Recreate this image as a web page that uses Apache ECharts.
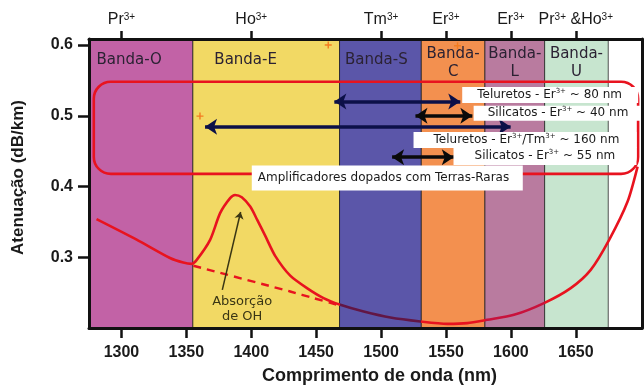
<!DOCTYPE html>
<html><head><meta charset="utf-8">
<script src="https://cdn.jsdelivr.net/npm/echarts@6/dist/echarts.min.js"></script>
<style>html,body{margin:0;padding:0;background:#fff}#c{width:644px;height:386px}</style>
</head><body><div id="c"></div>
<script>
// ---------------- data ----------------
const bandNames = ['Banda-O', 'Banda-E', 'Banda-S', 'Banda-\nC', 'Banda-\nL', 'Banda-\nU'];
const bandStart = [1275, 1355, 1468, 1531, 1580, 1626];
const bandEnd   = [1355, 1468, 1531, 1580, 1626, 1675];
const xTicks = [1300, 1350, 1400, 1450, 1500, 1550, 1600, 1650];
const yTicks = [0.3, 0.4, 0.5, 0.6];
const ionTicks  = [1300, 1400, 1500, 1550, 1600, 1650];
const ionLabels = ['Pr³⁺', 'Ho³⁺', 'Tm³⁺', 'Er³⁺', 'Er³⁺', 'Pr³⁺ &Ho³⁺'];
// attenuation curve (nm, dB/km)
const lossX = [1280.8, 1311.7, 1337.4, 1347.6, 1354.1, 1358.0, 1368.3, 1376.0, 1383.7, 1387.5, 1392.7, 1399.2,
               1404.6, 1410.8, 1418.4, 1430.0, 1442.9, 1455.7, 1468.6, 1486.6, 1507.2, 1530.3, 1551.0, 1566.4,
               1581.8, 1602.4, 1625.5, 1646.1, 1661.5, 1675.7, 1689.9, 1697.6];
const lossY = [0.354, 0.325, 0.299, 0.2925, 0.2907, 0.2963, 0.3246, 0.3623, 0.3835, 0.3881, 0.3849, 0.3716,
               0.3528, 0.3302, 0.3020, 0.2740, 0.2564, 0.2422, 0.2328, 0.2233, 0.2148, 0.2092, 0.2059, 0.2069,
               0.2116, 0.2186, 0.2352, 0.2564, 0.2822, 0.3246, 0.3787, 0.4281];
// curve without OH absorption (dashed)
const baseX = [1355.4, 1430.0, 1448.0, 1466.0];
const baseY = [0.288, 0.2516, 0.2422, 0.233];
// amplifier bandwidth arrows
const arrowFrom = [1464.0, 1526.5, 1364.4, 1508.5];
const arrowTo   = [1561.0, 1570.3, 1599.8, 1556.0];
const arrowY    = [0.520, 0.500, 0.4846, 0.4414];
// annotation texts
const noteTexts = ['Teluretos - Er³⁺ ~ 80 nm', 'Silicatos - Er³⁺ ~ 40 nm', 'Teluretos - Er³⁺/Tm³⁺ ~ 160 nm',
                   'Silicatos - Er³⁺ ~ 55 nm', 'Amplificadores dopados com Terras-Raras'];
const noteX = [1562.5, 1571.3, 1525.0, 1555.8, 1400.4];
const noteY = [0.5294, 0.5035, 0.4658, 0.4432, 0.4121];
const ohText = 'Absorção\nde OH';
const ohTextPos = [1393, 0.2271];
const ohArrowFrom = [1377.7, 0.254];
const ohArrowTo   = [1391.8, 0.364];
const plusX = [1459.3, 1558.9, 1360.5];
const plusY = [0.600, 0.599, 0.4995];
// red rounded frame around amplifier annotations (data units)
const frameX = [1278.7, 1698.0];
const frameY = [0.4178, 0.548];

// ---------------- styles ----------------
const RED = '#e8131f';
const bandColors = ['#c262a6', '#f2d964', '#5b56a9', '#f3904f', '#b97b9f', '#c7e5cf'];
const bandLabelPos = [[8, 13], [22, 13], [6, 13], ['50%', 7], ['50%', 7], ['50%', 7]];
const arrowColors = ['#0c1048', '#0a0a0a', '#0c1048', '#0a0a0a'];
const notePad = [[1, 0, 1, 15], [0, 0, 1, 14], [1, 0, 1, 20], [2, 0, 2, 21], [5.5, 0, 5.5, 6]];
const noteW = [161, 153, 203, 162, 265];
const sup = s => s.replace(/³⁺/g, '{s|3+}');
const LBL = 'Liberation Sans, Arial, sans-serif';
const TXT = 'DejaVu Sans, Verdana, sans-serif';

const chart = echarts.init(document.getElementById('c'), null, {renderer: 'canvas'});
const xMin = 1275, xMax = 1701, yMin = 0.2, yMax = 0.6085;

const option = {
  animation: false,
  backgroundColor: '#fff',
  grid: {left: 89, right: 2, top: 39, bottom: 58, containLabel: false, outerBoundsMode: 'none'},
  xAxis: [{
    type: 'value', position: 'bottom', min: xMin, max: xMax, z: 10,
    axisLine: {show: true, onZero: false, lineStyle: {color: '#111', width: 3}},
    axisTick: {show: true, length: 10, lineStyle: {color: '#111', width: 2.5}, customValues: xTicks},
    axisLabel: {customValues: xTicks, margin: 17, color: '#1a1a1a', fontFamily: LBL, fontWeight: 'bold', fontSize: 16,
      formatter: v => String(v)},
    splitLine: {show: false},
    name: 'Comprimento de onda (nm)', nameLocation: 'middle', nameGap: 39,
    nameTextStyle: {fontFamily: LBL, fontWeight: 'bold', fontSize: 18, color: '#1a1a1a', padding: [0, 0, 0, 28]}
  }, {
    type: 'value', position: 'top', min: xMin, max: xMax, z: 10,
    axisLine: {show: true, onZero: false, lineStyle: {color: '#111', width: 3}},
    axisTick: {show: true, length: 8, lineStyle: {color: '#111', width: 2.5}, customValues: ionTicks},
    axisLabel: {
      customValues: ionTicks, margin: 11, color: '#1a1a1a', fontFamily: LBL, fontSize: 16,
      formatter: v => sup(ionLabels[ionTicks.indexOf(v)] || ''),
      rich: {s: {fontSize: 10, lineHeight: 10, verticalAlign: 'top', color: '#1a1a1a', fontFamily: LBL}}
    },
    splitLine: {show: false}
  }],
  yAxis: [{
    type: 'value', position: 'left', min: yMin, max: yMax, z: 10,
    axisLine: {show: true, onZero: false, lineStyle: {color: '#111', width: 3}},
    axisTick: {show: true, length: 11, lineStyle: {color: '#111', width: 2.5}, customValues: yTicks},
    axisLabel: {customValues: yTicks, margin: 16, color: '#1a1a1a', fontFamily: LBL, fontWeight: 'bold', fontSize: 16,
      formatter: v => v.toFixed(1)},
    splitLine: {show: false},
    name: 'Atenuação (dB/km)', nameLocation: 'middle', nameGap: 62,
    nameTextStyle: {fontFamily: LBL, fontWeight: 'bold', fontSize: 17, color: '#1a1a1a', padding: [0, 0, 0, 12]}
  }, {
    type: 'value', position: 'right', min: yMin, max: yMax, z: 10,
    axisLine: {show: true, onZero: false, lineStyle: {color: '#111', width: 3}},
    axisTick: {show: false}, axisLabel: {show: false}, splitLine: {show: false}
  }],
  visualMap: {
    type: 'piecewise', show: false, seriesIndex: 1, dimension: 0,
    pieces: [
      {lt: 1468, color: RED},
      {gte: 1468, lt: 1531, color: '#621645'},
      {gte: 1531, lt: 1580, color: RED},
      {gte: 1580, lt: 1626, color: '#c8123c'},
      {gte: 1626, color: RED}
    ]
  },
  series: [
    {
      type: 'line', data: [], z: 1, silent: true,
      markArea: {
        silent: true,
        data: bandNames.map((n, i) => [{
          name: n, xAxis: bandStart[i], yAxis: yMin,
          itemStyle: {color: bandColors[i], borderColor: 'rgba(30,30,30,0.75)', borderWidth: 1, opacity: 1},
          label: {show: true, position: bandLabelPos[i], align: i < 3 ? 'left' : 'center', verticalAlign: 'top',
            color: '#2b2233', fontFamily: TXT, fontSize: 15, lineHeight: 18}
        }, {xAxis: bandEnd[i], yAxis: yMax}])
      }
    },
    {
      type: 'line', z: 4, data: lossX.map((x, i) => [x, lossY[i]]), smooth: 0.25, showSymbol: false,
      lineStyle: {width: 2.6}
    },
    {
      type: 'line', z: 4, data: baseX.map((x, i) => [x, baseY[i]]), showSymbol: false, smooth: 0.2,
      lineStyle: {color: RED, width: 2.4, type: [8, 6]}, itemStyle: {color: RED}
    },
    {
      type: 'lines', coordinateSystem: 'cartesian2d', z: 5, symbol: ['arrow', 'arrow'], symbolSize: 12,
      data: arrowFrom.map((x, i) => ({
        coords: [[x, arrowY[i]], [arrowTo[i], arrowY[i]]],
        lineStyle: {color: arrowColors[i], width: 3.5, opacity: 1}
      }))
    },
    {
      type: 'lines', coordinateSystem: 'cartesian2d', z: 5, symbol: ['none', 'arrow'], symbolSize: 7,
      data: [{coords: [ohArrowFrom, ohArrowTo]}],
      lineStyle: {color: '#3a3614', width: 1.5, opacity: 1}
    },
    {
      type: 'scatter', z: 6, symbol: 'path://M4,0H6V4H10V6H6V10H4V6H0V4H4Z', symbolSize: 7,
      itemStyle: {color: '#f47c20', opacity: 1}, data: plusX.map((x, i) => [x, plusY[i]])
    },
    {
      type: 'scatter', z: 10, symbolSize: 0, silent: true, itemStyle: {opacity: 1},
      data: noteX.map((x, i) => ({
        value: [x, noteY[i]],
        label: {padding: notePad[i], width: noteW[i]}
      })),
      label: {
        show: true, position: 'right', distance: 0, backgroundColor: '#ffffff', opacity: 1,
        color: '#1a1a1a', fontFamily: TXT, fontSize: 12, lineHeight: 14, align: 'left',
        formatter: p => sup(noteTexts[p.dataIndex]),
        rich: {s: {fontSize: 7, lineHeight: 7, verticalAlign: 'top', color: '#1a1a1a', fontFamily: TXT}}
      }
    },
    {
      type: 'scatter', z: 10, symbolSize: 0, silent: true, data: [ohTextPos], itemStyle: {opacity: 1},
      label: {show: true, position: 'inside', formatter: ohText, color: '#3a3614', fontFamily: TXT,
        fontSize: 13, lineHeight: 15, align: 'center', opacity: 1}
    }
  ]
};
chart.setOption(option);

const p1 = chart.convertToPixel({seriesIndex: 1}, [frameX[0], frameY[1]]);
const p2 = chart.convertToPixel({seriesIndex: 1}, [frameX[1], frameY[0]]);
chart.setOption({
  graphic: [{
    type: 'rect', z: 3,
    shape: {x: p1[0], y: p1[1], width: p2[0] - p1[0], height: p2[1] - p1[1], r: 17},
    style: {fill: 'none', stroke: RED, lineWidth: 2.6}
  }]
});
</script>
</body></html>
